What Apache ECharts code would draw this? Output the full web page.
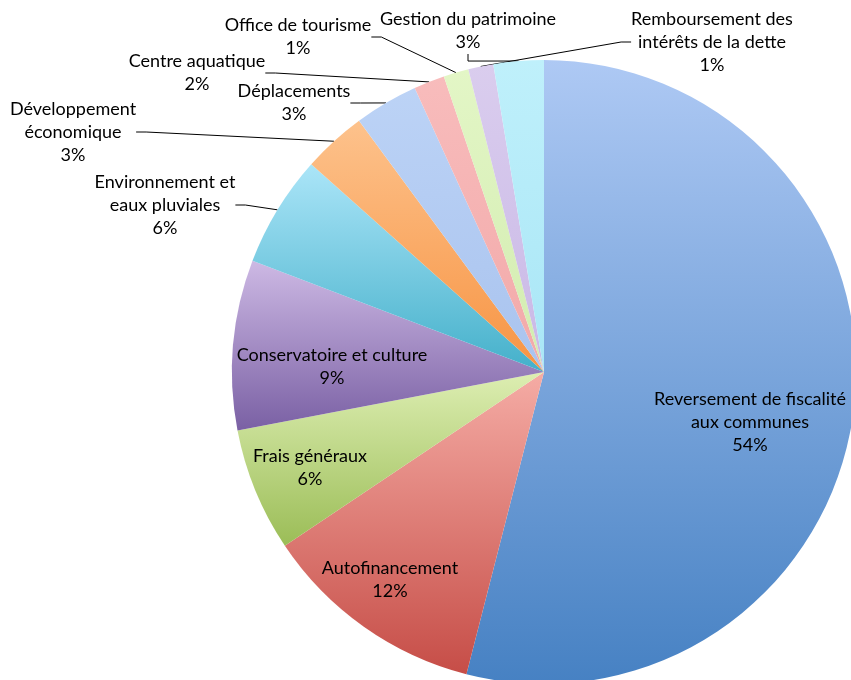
<!DOCTYPE html>
<html><head><meta charset="utf-8">
<script src="https://cdn.jsdelivr.net/npm/echarts@6/dist/echarts.min.js"></script>
<style>html,body{margin:0;padding:0;background:#fff}#c{width:851px;height:680px}</style>
</head><body><div id="c"></div>
<script>
const categories = ['Reversement de fiscalité\naux communes','Autofinancement','Frais généraux','Conservatoire et culture','Environnement et\neaux pluviales','Développement\néconomique','Déplacements','Centre aquatique','Office de tourisme','Remboursement des\nintérêts de la dette','Gestion du patrimoine'];
const values = [54.0, 11.6, 6.4, 8.8, 5.8, 3.3, 3.3, 1.6, 1.3, 1.3, 2.6];
const lightColors = ['#aec9f4','#f5aca5','#ddeeb2','#cdb9e4','#abe5f8','#fdc28c','#bcd3f6','#f8bcbc','#e3f6c6','#dacdee','#bff0fb'];
const darkColors  = ['#4681c3','#c64d47','#9bbd57','#7a60a4','#44b0ca','#f79443','#a9c3ee','#f2a9a9','#d2ecb0','#c9b8e6','#a9e6f6'];
const labelPos = [[750,422],[390,580],[310,468],[332,367],[165,205],[73,132],[294,103],[197,73],[298,37],[712,42],[468,31]];
const insideCount = 4;

const chart = echarts.init(document.getElementById('c'));
const data = categories.map((n,i)=>({
  name:n, value:values[i],
  itemStyle:{color:{type:'linear',x:0,y:0,x2:0,y2:1,colorStops:[{offset:0,color:lightColors[i]},{offset:1,color:darkColors[i]}]}},
  label:{position: i<insideCount?'inside':'outside'},
  labelLine:{show: i>=insideCount}
}));
chart.setOption({
  animation:false,
  series:[{
    type:'pie',
    center:[544,372],
    radius:312,
    startAngle:90,
    clockwise:true,
    data:data,
    itemStyle:{borderWidth:0},
    label:{
      formatter:p=>p.name+'\n'+Math.round(p.percent)+'%',
      fontFamily:'Lato',fontSize:18,color:'#000',lineHeight:23,align:'center'
    },
    labelLine:{show:true,lineStyle:{color:'#000',width:1},length:10,length2:10},
    labelLayout:function(p){
      const q=labelPos[p.dataIndex];
      return {x:q[0],y:q[1],align:'center',verticalAlign:'middle',moveOverlap:false,hideOverlap:false};
    }
  }]
});
</script></body></html>
